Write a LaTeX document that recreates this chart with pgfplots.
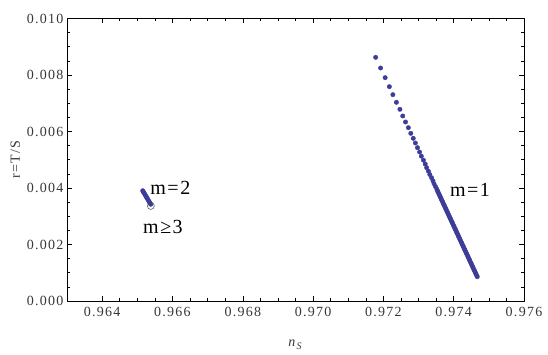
\documentclass[border=0pt]{standalone}
\usepackage{pgfplots}
\pgfplotsset{compat=1.18}
\usepackage{fontspec}
\setmainfont{Liberation Serif}
\newfontfamily\tickfont[LetterSpace=9]{Liberation Serif}
\definecolor{mblue}{RGB}{61,61,153}
\definecolor{lblgray}{RGB}{55,55,55}

\begin{document}
\begin{tikzpicture}[x=1pt,y=1pt]
\useasboundingbox (0,0) rectangle (548,355);
\begin{axis}[
    at={(67pt,54pt)}, anchor=south west,
    scale only axis,
    width=457pt, height=282.5pt,
    xmin=0.963, xmax=0.976,
    ymin=0, ymax=0.010,
    xtick={0.964,0.966,...,0.9761},
    ytick={0,0.002,...,0.0101},
    minor x tick num=3,
    minor y tick num=3,
    tick align=inside,
    major tick length=5pt,
    minor tick length=3pt,
    every tick/.style={black, line width=0.5pt},
    axis line style={line width=0.6pt},
    scaled ticks=false,
    xticklabel style={yshift=-3pt, /pgf/number format/.cd, fixed, fixed zerofill, precision=3},
    yticklabel style={/pgf/number format/.cd, fixed, fixed zerofill, precision=3},
    /pgf/number format/assume math mode=true,
    ticklabel style={font=\tickfont\fontsize{14}{14}\selectfont, text=lblgray},
    xlabel={\textit{n}\raisebox{-2.5pt}{\fontsize{10}{10}\selectfont\textit{S}}},
    ylabel={r=T/S},
    label style={font=\tickfont\fontsize{14}{14}\selectfont, text=lblgray},
    xlabel style={yshift=-16pt},
    ylabel style={yshift=0pt},
    clip=false,
]
% m=1
\addplot[only marks, mark=*, mark size=2.2pt, color=mblue, mark options={draw=mblue, fill=mblue}] coordinates {
(0.97178,0.008625) (0.97192,0.008248) (0.97205,0.007906) (0.97217,0.007587)
(0.97227,0.007304) (0.97237,0.007033) (0.97247,0.006785) (0.97255,0.006549)
(0.97263,0.006336) (0.97271,0.006136) (0.97278,0.005935) (0.97285,0.005758)
(0.97291,0.005593) (0.97297,0.005428) (0.97303,0.005274) (0.97308,0.005126)
(0.97314,0.004985) (0.97319,0.004850) (0.97323,0.004720) (0.97328,0.004596)
(0.97332,0.004478) (0.97337,0.004365) (0.97341,0.004257) (0.97344,0.004154)
(0.97348,0.004055) (0.97352,0.003960)
(0.973539,0.00390) (0.973557,0.00385) (0.973576,0.00380) (0.973595,0.00375)
(0.973613,0.00370) (0.973632,0.00365) (0.973650,0.00360) (0.973669,0.00355)
(0.973688,0.00350) (0.973706,0.00345) (0.973725,0.00340) (0.973743,0.00335)
(0.973762,0.00330) (0.973781,0.00325) (0.973799,0.00320) (0.973818,0.00315)
(0.973836,0.00310) (0.973855,0.00305) (0.973874,0.00300) (0.973892,0.00295)
(0.973911,0.00290) (0.973930,0.00285) (0.973948,0.00280) (0.973967,0.00275)
(0.973985,0.00270) (0.974004,0.00265) (0.974023,0.00260) (0.974041,0.00255)
(0.974060,0.00250) (0.974078,0.00245) (0.974097,0.00240) (0.974116,0.00235)
(0.974134,0.00230) (0.974153,0.00225) (0.974171,0.00220) (0.974190,0.00215)
(0.974209,0.00210) (0.974227,0.00205) (0.974246,0.00200) (0.974264,0.00195)
(0.974283,0.00190) (0.974302,0.00185) (0.974320,0.00180) (0.974339,0.00175)
(0.974357,0.00170) (0.974376,0.00165) (0.974395,0.00160) (0.974413,0.00155)
(0.974432,0.00150) (0.974450,0.00145) (0.974469,0.00140) (0.974488,0.00135)
(0.974506,0.00130) (0.974525,0.00125) (0.974543,0.00120) (0.974562,0.00115)
(0.974581,0.00110) (0.974599,0.00105) (0.974618,0.00100) (0.974637,0.00095)
(0.974655,0.00090) (0.974670,0.00086)
};
% m=2
\addplot[only marks, mark=*, mark size=2.2pt, color=mblue, mark options={draw=mblue, fill=mblue}] coordinates {
(0.965154,0.003904) (0.965175,0.003860) (0.965195,0.003817) (0.965216,0.003773)
(0.965237,0.003729) (0.965257,0.003685) (0.965278,0.003642) (0.965299,0.003598)
(0.965319,0.003554) (0.965340,0.003511) (0.965360,0.003467) (0.965381,0.003423)
};
% m>=3
\addplot[only marks, mark=o, mark size=3.5pt, mark options={draw=black!75, line width=0.5pt}] coordinates {
(0.965385,0.003365)
};
\node[font=\fontsize{20}{20}\selectfont] at (axis cs:0.965940,0.00400) {m\hspace{1.5pt}=\hspace{1.5pt}2};
\node[font=\fontsize{20}{20}\selectfont] at (axis cs:0.96573,0.00262) {m\hspace{1.5pt}≥\hspace{1.5pt}3};
\node[font=\fontsize{20}{20}\selectfont] at (axis cs:0.974465,0.00393) {m\hspace{1.5pt}=\hspace{1.5pt}1};
\end{axis}
\end{tikzpicture}
\end{document}
